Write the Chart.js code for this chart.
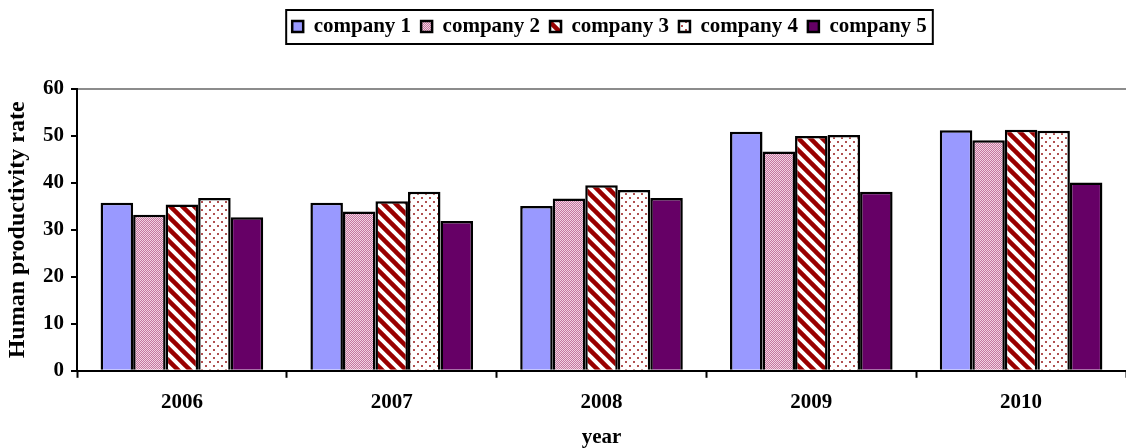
<!DOCTYPE html>
<html>
<head>
<meta charset="utf-8">
<script src="https://cdn.jsdelivr.net/npm/chart.js@4/dist/chart.umd.min.js"></script>
<style>
  html, body { margin: 0; padding: 0; background: #fff; }
  #wrap { width: 1126px; height: 448px; position: relative; }
</style>
</head>
<body>
<div id="wrap"><canvas id="chart"></canvas></div>
<script>
// --- data ---
const years = ['2006', '2007', '2008', '2009', '2010'];
const company1 = [35.8, 35.8, 35.1, 50.9, 51.2];
const company2 = [33.2, 33.9, 36.7, 46.7, 49.1];
const company3 = [35.4, 36.1, 39.5, 50.0, 51.3];
const company4 = [36.8, 38.1, 38.5, 50.2, 51.1];
const company5 = [32.7, 31.9, 36.8, 38.1, 40.1];
const seriesNames = ['company 1', 'company 2', 'company 3', 'company 4', 'company 5'];
const yTicks = [0, 10, 20, 30, 40, 50, 60];

const FONT = '"Liberation Serif", "Times New Roman", serif';

// --- fill patterns ---
const makePattern = (w, h, draw) => {
  const c = document.createElement('canvas');
  c.width = w; c.height = h;
  const g = c.getContext('2d');
  draw(g, w, h);
  return g.createPattern(c, 'repeat');
};

const checkerPink = makePattern(2, 2, (g) => {
  g.fillStyle = '#C4779E'; g.fillRect(0, 0, 2, 2);
  g.fillStyle = '#F2D2E2'; g.fillRect(0, 0, 1, 1); g.fillRect(1, 1, 1, 1);
});

const stripesRed = makePattern(12, 12, (g, w, h) => {
  g.fillStyle = '#fff'; g.fillRect(0, 0, w, h);
  g.strokeStyle = '#990000'; g.lineWidth = 4.5;
  [-12, 0, 12].forEach(dx => {
    g.beginPath(); g.moveTo(dx - 2, -2); g.lineTo(dx + 14, 14); g.stroke();
  });
});

const dotsRed = makePattern(8, 8, (g, w, h) => {
  g.fillStyle = '#fff'; g.fillRect(0, 0, w, h);
  g.fillStyle = '#B05050';
  g.fillRect(1, 1, 2, 2);
  g.fillRect(5, 5, 2, 2);
});

const fills = ['#9999FF', checkerPink, stripesRed, dotsRed, '#660066'];
const values = [company1, company2, company3, company4, company5];

// --- plugins ---
// extra room under the legend, and nudge it a little to the right
const legendSpacing = {
  id: 'legendSpacing',
  beforeInit(chart) {
    const fit = chart.legend.fit;
    chart.legend.fit = function () {
      fit.bind(chart.legend)();
      this.height += 42;
    };
  },
  afterLayout(chart) {
    chart.legend.left += 8;
    chart.legend.right += 8;
  }
};

const legendFrame = {
  id: 'legendFrame',
  afterDraw(chart) {
    const boxes = chart.legend && chart.legend.legendHitBoxes;
    if (!boxes || !boxes.length) return;
    const first = boxes[0], last = boxes[boxes.length - 1];
    const left = first.left - 6;
    const right = last.left + last.width + 6;
    const top = first.top - 6;
    const bottom = first.top + first.height + 7;
    const ctx = chart.ctx;
    ctx.save();
    ctx.strokeStyle = '#000';
    ctx.lineWidth = 2;
    ctx.strokeRect(left, top, right - left, bottom - top);
    ctx.restore();
  }
};

new Chart(document.getElementById('chart'), {
  type: 'bar',
  data: {
    labels: years,
    datasets: seriesNames.map((name, i) => ({
      label: name,
      data: values[i],
      backgroundColor: fills[i],
      borderColor: '#000',
      borderWidth: 2.5,
      categoryPercentage: 0.775,
      barPercentage: 1
    }))
  },
  options: {
    responsive: true,
    maintainAspectRatio: false,
    animation: false,
    layout: { padding: { top: 6, right: 0, left: 6, bottom: 0 } },
    plugins: {
      tooltip: { enabled: false },
      legend: {
        position: 'top',
        fullSize: false,
        labels: {
          color: '#000',
          font: { family: FONT, size: 21, weight: 'bold' },
          boxWidth: 11,
          boxHeight: 11,
          padding: 10
        }
      }
    },
    scales: {
      x: {
        grid: { display: true, drawOnChartArea: false, offset: true, tickColor: '#000', tickLength: 7, tickWidth: 2 },
        border: { color: '#000', width: 2 },
        ticks: { color: '#000', padding: 12, font: { family: FONT, size: 21, weight: 'bold' } },
        title: { display: true, text: 'year', color: '#000', padding: { top: 0, bottom: 0 },
                 font: { family: FONT, size: 21, weight: 'bold', lineHeight: 1 } }
      },
      y: {
        min: 0, max: 60,
        afterBuildTicks(scale) { scale.ticks = yTicks.map(v => ({ value: v })); },
        grid: {
          drawOnChartArea: true,
          color: (ctx) => (ctx.tick && ctx.tick.value === 60 ? '#8C8C8C' : 'rgba(0,0,0,0)'),
          lineWidth: 2,
          tickColor: '#000',
          tickLength: 6,
          tickWidth: 2
        },
        border: { color: '#000', width: 2 },
        ticks: { color: '#000', padding: 7, font: { family: FONT, size: 21, weight: 'bold' } },
        title: { display: true, text: 'Human productivity rate', color: '#000', padding: { top: 0, bottom: 6 },
                 font: { family: FONT, size: 24, weight: 'bold', lineHeight: 1 } }
      }
    }
  },
  plugins: [legendSpacing, legendFrame]
});
</script>
</body>
</html>
